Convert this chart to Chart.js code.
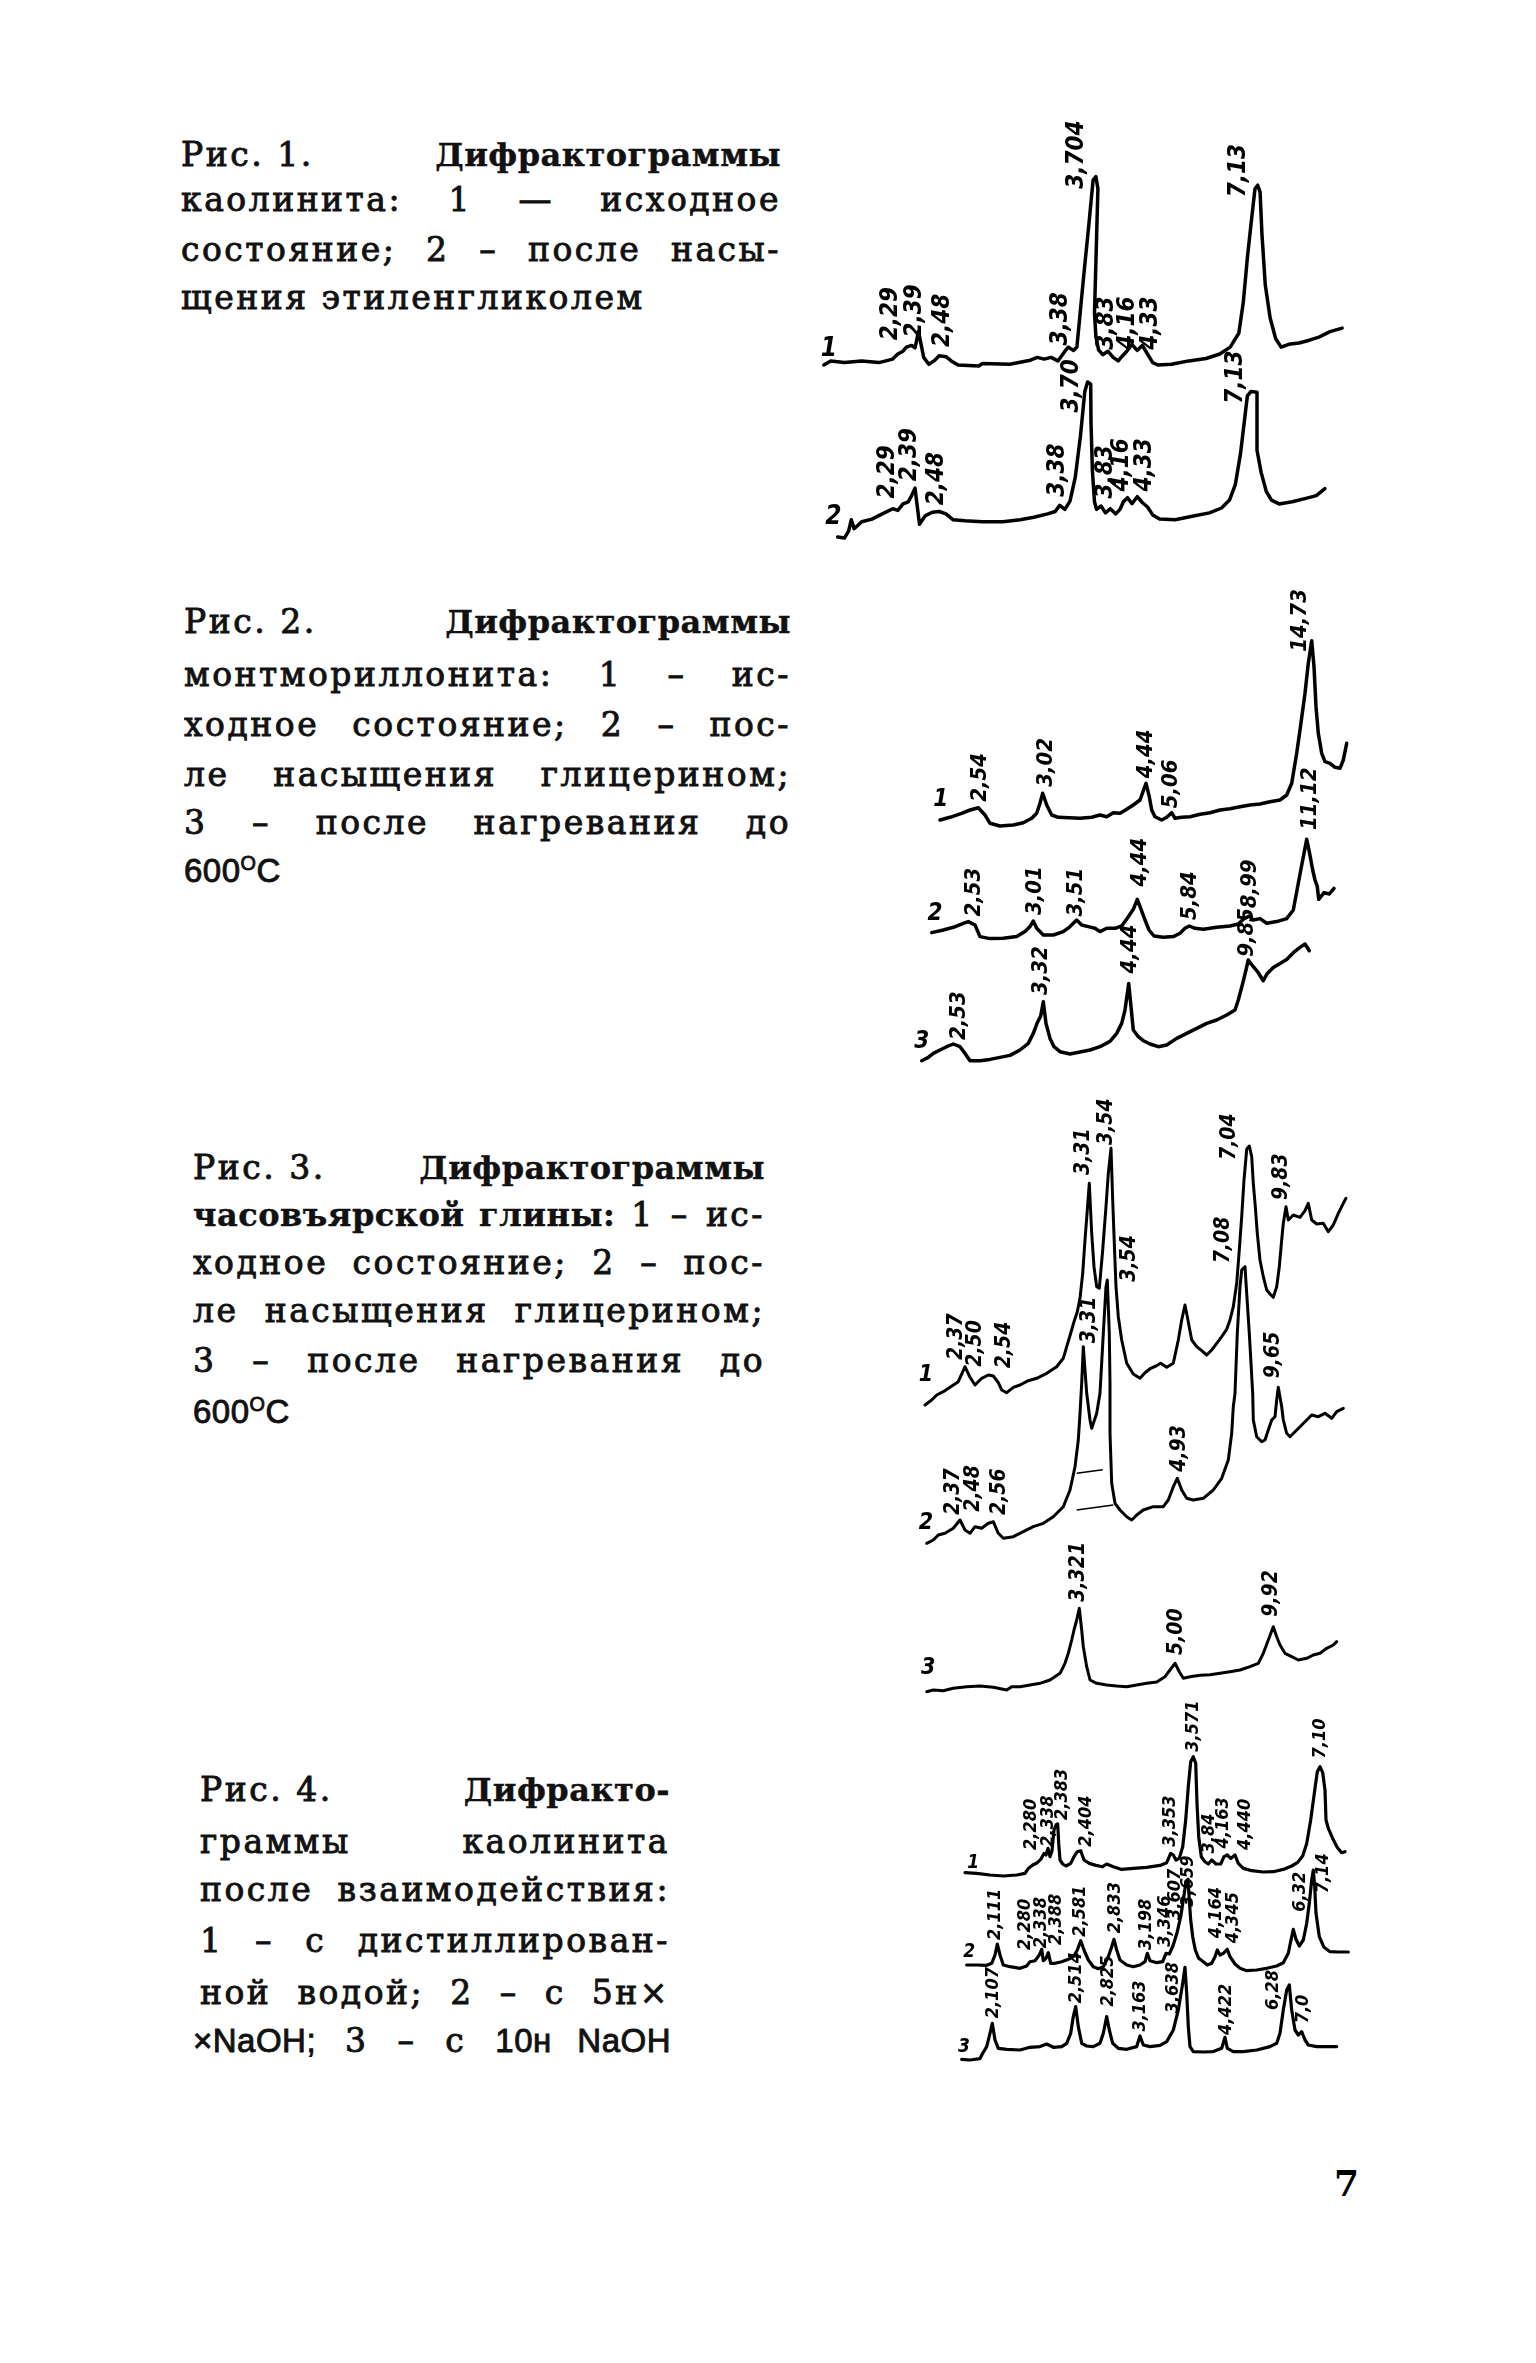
<!DOCTYPE html>
<html>
<head>
<meta charset="utf-8">
<script src="https://cdn.jsdelivr.net/npm/chart.js@4.4.1/dist/chart.umd.min.js"></script>
<style>
  html, body { margin: 0; padding: 0; background: #fff; }
  body { width: 1536px; height: 2363px; position: relative; overflow: hidden; }
  .cap {
    position: absolute; height: 42px; line-height: 42px; overflow: hidden;
    font-family: "DejaVu Serif", serif; font-size: 33px; color: #111;
    letter-spacing: 2.5px; white-space: nowrap; -webkit-text-stroke: 0.9px #111;
  }
  .j { text-align: justify; text-align-last: justify; }
  .cap b { font-weight: bold; font-size: 32px; letter-spacing: 0.5px; -webkit-text-stroke: 0.4px #111; }
  .cap .u { display: inline-block; }
  .cap .s { font-family: "Liberation Sans", Arial, sans-serif; letter-spacing: 0.5px; }
  .cap sup { font-size: 60%; vertical-align: 12px; line-height: 0; }
  .pageno { position: absolute; left: 1334px; top: 2162px; font: bold 36px "DejaVu Serif", serif; }
  canvas { position: absolute; }
</style>
</head>
<body>

<div class="cap j" style="left:181px;top:134px;width:600px"><span class="u">Рис. 1.</span> <b>Дифрактограммы</b></div>
<div class="cap j" style="left:181px;top:179px;width:600px">каолинита: 1 — исходное</div>
<div class="cap j" style="left:181px;top:229px;width:600px">состояние; 2 – после насы-</div>
<div class="cap" style="left:181px;top:277px">щения этиленгликолем</div>

<div class="cap j" style="left:184px;top:601px;width:607px"><span class="u">Рис. 2.</span> <b>Дифрактограммы</b></div>
<div class="cap j" style="left:184px;top:654px;width:607px">монтмориллонита: 1 – ис-</div>
<div class="cap j" style="left:184px;top:704px;width:607px">ходное состояние; 2 – пос-</div>
<div class="cap j" style="left:184px;top:754px;width:607px">ле насыщения глицерином;</div>
<div class="cap j" style="left:184px;top:802px;width:607px">3 – после нагревания до</div>
<div class="cap" style="left:184px;top:850px"><span class="s">600<sup>O</sup>C</span></div>

<div class="cap j" style="left:193px;top:1147px;width:572px"><span class="u">Рис. 3.</span> <b>Дифрактограммы</b></div>
<div class="cap j" style="left:193px;top:1194px;width:572px"><b>часовъярской глины:</b> 1 – ис-</div>
<div class="cap j" style="left:193px;top:1242px;width:572px">ходное состояние; 2 – пос-</div>
<div class="cap j" style="left:193px;top:1290px;width:572px">ле насыщения глицерином;</div>
<div class="cap j" style="left:193px;top:1340px;width:572px">3 – после нагревания до</div>
<div class="cap" style="left:193px;top:1391px"><span class="s">600<sup>O</sup>C</span></div>

<div class="cap j" style="left:200px;top:1769px;width:470px"><span class="u">Рис. 4.</span> <b>Дифракто-</b></div>
<div class="cap j" style="left:200px;top:1821px;width:470px">граммы каолинита</div>
<div class="cap j" style="left:200px;top:1869px;width:470px">после взаимодействия:</div>
<div class="cap j" style="left:200px;top:1920px;width:470px">1 – с дистиллирован-</div>
<div class="cap j" style="left:200px;top:1972px;width:470px">ной водой; 2 – с 5н×</div>
<div class="cap j" style="left:193px;top:2020px;width:478px"><span class="s">×NaOH;</span> 3 – с <span class="s">10н NaOH</span></div>

<div class="pageno">7</div>

<canvas id="fig1" width="560" height="450" style="left:800px;top:110px"></canvas>
<canvas id="fig2" width="470" height="520" style="left:890px;top:570px"></canvas>
<canvas id="fig3" width="470" height="635" style="left:890px;top:1080px"></canvas>
<canvas id="fig4" width="430" height="440" style="left:930px;top:1695px"></canvas>

<script>
// ---- Рис. 1: каолинит ----
const F1T1_X = [23.8,30.7,44.4,61.7,78.9,92.7,97.8,103.0,106.4,111.6,115.0,118.5,123.7,128.8,134.0,139.2,146.0,151.2,158.1,178.8,182.2,209.8,230.4,237.3,244.2,251.1,258.0,264.9,268.3,273.5,276.9,283.8,289.0,293.1,295.9,297.9,296.5,294.5,295.9,298.6,302.7,307.9,313.1,318.2,321.7,326.8,332.0,337.2,342.3,347.5,352.7,357.8,371.6,388.8,406.1,419.8,430.2,438.8,443.3,447.4,451.5,455.0,457.7,460.1,461.9,465.3,470.1,475.6,481.1,488.7,499.0,509.4,519.7,530.0,542.1];
const F1T1_Y = [0,4.1,2.4,4.1,2.4,5.9,11.0,13.8,17.9,19.6,17.2,33.4,7.6,0.7,4.1,9.3,8.3,4.1,0,-1.0,1.4,0.7,4.8,7.6,5.9,7.6,4.1,13.8,17.9,14.5,17.9,90.2,141.9,184.9,188.4,176.3,124.7,52.3,28.2,15.2,10.3,13.8,7.6,4.1,8.3,13.8,20.7,14.5,19.6,11.0,2.4,0,0.7,4.1,6.5,11.0,17.9,31.7,62.7,107.5,145.3,176.3,179.8,172.9,131.6,79.9,47.2,26.5,17.9,20.7,22.0,24.8,28.2,33.4,36.9];
const F1T1_PEAKS = ["2,29","2,39","2,48","3,38","3,704","3,83","4,16","4,33","7,13"];
const F1T1_PX = [90.9,114.4,142.6,260.7,276.9,306.9,327.5,350.3,438.8];
const F1T1_PY = [24.8,27.6,17.9,19.6,176.3,15.2,15.2,15.2,167.7];

const F1T2_X = [37.6,44.4,48.6,51.3,54.1,61.7,72.0,82.3,92.7,97.8,103.0,108.2,111.6,115.0,119.5,125.4,132.3,139.2,146.0,152.9,165.0,182.2,202.9,220.1,233.9,247.6,255.2,259.7,264.9,270.0,275.2,280.4,284.8,287.6,290.7,291.0,292.4,294.5,296.5,301.0,305.5,310.3,315.8,320.0,323.4,327.5,332.0,337.2,342.3,347.5,352.7,359.6,375.1,392.3,409.5,421.5,429.5,435.3,440.5,444.6,447.4,450.8,457.0,457.0,461.2,466.3,471.5,479.1,492.2,505.9,516.3,524.9];
const F1T2_Y = [-14.5,-15.5,-8.6,2.8,-6.2,0.7,3.4,8.6,13.8,12.1,18.6,20.7,26.9,34.4,-1.7,6.9,10.3,11.0,8.6,2.8,1.7,0.7,0.7,2.8,5.2,8.6,11.0,17.2,13.1,21.4,44.8,86.1,130.9,140.5,138.4,99.9,51.7,20.7,13.1,16.5,9.6,13.8,8.6,13.1,20.7,24.8,18.9,25.8,20.0,15.5,7.6,3.4,2.8,6.2,9.6,14.5,22.4,37.9,68.9,103.3,126.7,130.9,130.2,72.3,49.9,31.0,22.4,18.6,20.7,24.1,26.9,33.8];
const F1T2_PEAKS = ["2,29","2,39","2,48","3,38","3,70","3,83","4,16","4,33","7,13"];
const F1T2_PX = [87.5,109.9,136.7,257.3,271.7,305.5,321.7,344.8,435.3];
const F1T2_PY = [24.1,41.3,17.2,25.8,110,24.1,31.0,31.0,118.8];

// ---- Рис. 2: монтмориллонит ----
const F2T1_X = [50.0,60.0,71.7,80.0,88.3,95.0,100.0,110.0,123.3,133.3,141.7,146.7,150.0,152.7,156.7,161.7,168.3,190.0,201.7,210.0,216.7,223.3,230.0,236.7,243.3,250.0,256.0,259.3,261.7,265.0,271.7,276.7,281.7,285.0,291.7,300.0,310.0,320.0,330.0,340.0,350.0,360.0,370.0,380.0,390.0,396.7,401.7,406.7,410.0,415.0,418.3,421.7,424.0,426.0,428.3,431.7,435.0,440.0,445.0,450.0,453.3,456.7];
const F2T1_Y = [0,2.7,6.7,10.0,12.3,5.0,-3.3,-6.0,-5.0,-2.7,1.7,6.7,16.7,26.7,15.0,5.0,2.7,1.7,2.7,5.0,3.3,7.3,6.7,10.7,15.0,20.0,36.7,23.3,10.0,3.3,0,2.7,7.3,1.7,2.7,3.3,5.7,7.3,10.0,11.3,13.3,15.0,16.0,18.3,20.0,25.0,36.7,66.7,90.0,126.7,156.7,179.3,153.3,113.3,86.7,66.7,58.3,56.7,52.7,51.7,60.0,76.7];
const F2T1_PEAKS = ["2,54","3,02","4,44","5,06","14,73"];
const F2T1_PX = [90.0,156.7,256.7,281.7,410.0];
const F2T1_PY = [18.3,33.3,41.7,11.7,168.3];

const F2T2_X = [41.7,53.3,63.3,73.3,78.3,85.0,90.0,100.0,113.3,126.7,135.0,140.0,143.3,146.7,153.3,163.3,173.3,180.0,186.7,191.7,198.3,205.0,210.0,216.7,225.0,231.7,237.3,243.3,247.3,250.7,255.0,259.0,264.0,273.3,283.3,290.0,295.0,299.3,305.0,313.3,326.7,340.0,348.3,353.3,359.3,363.3,370.0,376.7,386.7,396.7,403.3,408.3,412.7,416.7,419.3,422.7,425.0,427.3,428.7,434.0,439.3,444.0];
const F2T2_Y = [0.7,3.3,6.0,10.0,11.7,8.3,-3.3,-5.3,-5.0,-3.3,1.7,6.7,12.3,5.0,-1.7,-1.7,1.7,6.7,13.3,8.3,6.7,5.0,1.7,5.0,5.0,7.3,15.0,24.0,34.0,25.0,13.3,3.3,-2.7,-4.0,-3.3,0,5.0,7.3,5.0,4.0,6.0,7.3,9.3,14.0,17.3,13.3,14.7,10.0,11.7,14.7,23.3,50.0,73.3,94.0,81.7,63.3,53.3,46.7,34.0,40.7,39.3,45.0];
const F2T2_PEAKS = ["2,53","3,01","3,51","4,44","5,84","8,99","11,12"];
const F2T2_PX = [84.0,145.0,186.7,250.0,300.0,360.0,420.0];
const F2T2_PY = [16.7,18.3,16.7,46.7,13.3,25.0,103.3];

const F2T3_X = [31.7,38.3,43.3,50.0,56.7,63.3,70.0,75.0,80.0,90.0,100.0,110.0,120.0,130.0,138.3,143.3,147.3,150.7,153.3,156.0,160.0,164.0,170.0,180.0,190.0,200.0,210.0,220.0,226.7,231.7,235.0,238.7,241.0,243.3,248.3,253.3,260.0,268.3,276.7,286.7,296.7,306.7,316.7,326.7,336.7,345.0,348.3,352.3,356.0,358.3,363.3,368.3,373.3,377.3,383.3,390.0,396.7,403.3,410.0,415.0,419.3];
const F2T3_Y = [1.0,4.3,8.3,11.7,15.0,17.7,15.0,8.3,1.0,1.0,2.3,4.3,6.3,11.7,18.3,28.3,39.0,45.7,60.0,38.3,23.3,15.0,10.0,7.7,9.7,11.7,15.0,20.3,28.3,38.3,51.7,78.3,55.0,31.7,25.0,21.0,17.7,15.0,16.7,23.3,28.3,33.3,38.3,41.7,46.7,51.7,61.7,76.7,91.7,101.7,95.0,89.0,81.0,88.3,94.3,98.3,102.3,109.0,114.3,117.7,111.0];
const F2T3_PEAKS = ["2,53","3,32","4,44","9,85"];
const F2T3_PX = [69.3,151.7,240.0,357.0];
const F2T3_PY = [21.7,66.7,88.3,105];

// ---- Рис. 3: часовъярская глина ----
const F3T1_X = [35.0,41.7,46.7,53.3,60.0,68.3,75.0,80.0,85.0,91.7,98.3,103.3,108.3,111.7,116.7,123.3,130.0,138.3,146.7,156.7,166.7,173.3,176.7,180.7,184.0,187.3,190.0,192.7,195.0,197.3,199.3,201.7,204.0,206.7,209.3,212.7,216.0,218.3,221.0,222.7,224.3,226.0,228.3,231.7,236.7,243.3,250.0,255.0,260.7,266.0,270.7,276.7,283.3,288.3,291.7,295.0,297.3,301.7,306.7,311.7,316.7,321.7,326.7,331.7,336.7,340.0,343.3,346.7,349.3,351.7,354.0,356.7,359.3,361.7,363.3,365.3,367.3,370.0,373.3,376.7,380.0,383.3,386.7,389.3,391.7,393.3,396.0,398.3,403.3,410.0,415.0,418.3,421.7,426.7,433.3,438.3,443.3,448.3,453.3,456.0];
const F3T1_Y = [-5.0,0,5.0,8.3,12.7,18.3,33.3,22.7,15.0,21.7,25.0,24.0,17.3,10.0,7.3,12.7,15.0,19.3,21.7,26.7,33.3,41.7,53.3,66.7,78.3,88.3,101.7,126.7,160.0,190.0,216.7,166.7,133.3,113.3,111.7,150.0,193.3,226.7,251.7,200.0,156.7,113.3,83.3,60.0,36.7,26.0,21.7,27.3,31.7,34.0,36.7,32.7,36.7,60.0,80.0,95.0,83.3,60.0,53.3,49.3,45.0,50.0,56.7,63.3,70.7,80.0,93.3,116.7,150.0,183.3,220.0,250.7,254.0,243.3,216.7,193.3,166.7,140.0,123.3,110.0,106.0,102.7,113.3,133.3,160.0,176.7,193.3,180.0,185.0,182.7,189.3,196.7,180.0,176.0,176.7,168.3,175.0,186.7,196.7,201.7];
const F3T1_PEAKS = ["2,37","2,50","2,54","3,31","3,54","7,04","9,83"];
const F3T1_PX = [66.7,86.0,115.0,193.3,217.0,340.0,391.7];
const F3T1_PY = [40,33.3,31.7,225,255,240,200];

const F3T2_X = [36.7,43.3,48.3,55.0,63.3,70.0,75.0,80.0,85.0,91.7,98.3,103.3,108.3,113.3,123.3,133.3,143.3,153.3,163.3,173.3,180.0,185.0,188.3,190.0,191.7,193.3,196.7,200.0,201.7,206.7,210.0,213.3,216.0,217.3,219.3,220.0,220.0,221.7,225.0,230.0,236.7,241.7,246.7,253.3,263.3,273.3,278.3,283.3,287.3,291.7,296.7,303.3,313.3,323.3,331.7,338.3,341.7,343.3,345.0,347.3,350.0,351.7,355.0,356.7,359.3,362.7,363.3,366.7,371.7,375.0,378.3,381.7,385.0,386.7,388.3,391.7,393.3,396.7,400.0,405.0,410.0,415.0,421.7,428.3,435.0,441.7,446.7,453.3];
const F3T2_Y = [0,3.3,8.3,10.0,15.0,23.3,13.3,10.0,16.6,15.0,20.0,21.6,10.0,5.0,6.6,11.6,16.6,20.0,26.6,36.6,53.3,76.6,103.3,130.0,160.0,196.6,150.0,123.3,115.0,130.0,150.0,210.0,256.6,263.3,210.0,160.0,110.0,60.0,40.0,33.3,26.6,23.3,28.3,33.3,36.6,36.6,43.3,56.6,65.0,53.3,45.0,43.3,45.0,53.3,65.0,83.3,110.0,136.6,150.0,210.0,256.6,273.3,276.6,250.0,210.0,150.0,123.3,106.6,101.6,103.3,113.3,123.3,126.6,143.3,156.0,136.6,123.3,110.0,106.6,111.6,116.6,121.6,128.3,126.6,130.0,125.0,131.6,135.0];
const F3T2_PEAKS = ["2,37","2,48","2,56","3,31","3,54","4,93","7,08","9,65"];
const F3T2_PX = [63.3,84.0,109.3,200.0,240.0,290.0,333.3,383.3];
const F3T2_PY = [28.3,31.6,28.3,200,261.6,71.6,280,165];
// касательные у пика 3,31 кривой 2
const F3T2_TAN1_X = [186.7,212.7];
const F3T2_TAN1_Y = [70.0,73.6];
const F3T2_TAN2_X = [186.7,223.3];
const F3T2_TAN2_Y = [33.3,38.3];

const F3T3_X = [36.7,43.3,53.3,63.3,76.7,90.0,103.3,116.7,121.7,130.0,140.0,150.0,160.0,170.0,175.0,178.3,181.7,184.0,186.7,189.3,191.7,193.3,196.7,200.0,206.7,216.7,226.7,236.7,246.7,256.7,266.7,275.0,280.0,285.0,289.3,293.3,300.0,310.0,320.0,330.0,340.0,350.0,360.0,368.3,373.3,378.3,383.3,386.7,390.0,395.0,401.7,408.3,416.7,423.3,430.0,436.7,443.3,446.7];
const F3T3_Y = [-1.7,0,-0.7,1.7,3.3,4.0,2.7,0,3.3,3.3,5.0,6.7,10.0,16.7,26.7,36.7,50.0,60.0,70.0,81.7,60.0,43.3,23.3,10.0,6.7,5.0,4.0,3.3,5.0,6.7,8.0,13.3,20.0,26.7,18.3,11.7,13.3,14.7,15.3,16.7,18.3,20.0,23.3,26.7,36.7,50.0,63.3,53.3,45.0,36.7,33.3,30.0,31.7,35.0,36.7,41.7,45.0,48.3];
const F3T3_PEAKS = ["3,321","5,00","9,92"];
const F3T3_PX = [188.3,286.7,381.7];
const F3T3_PY = [88.3,35,73.3];

// ---- Рис. 4: каолинит после NaOH ----
const F4T1_X = [35.0,46.7,60.0,73.3,86.7,95.0,98.3,102.7,107.3,110.7,114.0,116.0,118.0,120.0,122.0,124.0,126.0,127.7,128.7,130.0,132.7,136.0,140.7,144.0,147.3,150.7,154.0,159.3,166.0,172.7,176.7,183.3,191.7,203.3,216.7,230.0,236.7,240.7,243.3,246.0,249.3,252.7,255.7,258.3,260.7,263.3,265.7,267.0,268.7,271.3,275.0,278.3,281.7,286.0,290.7,294.0,297.3,300.7,305.0,308.3,313.3,321.7,333.3,343.3,353.3,361.7,367.3,372.7,376.7,380.7,384.3,387.3,390.0,392.7,395.0,396.0,398.3,402.7,407.3,411.7,415.0];
const F4T1_Y = [-1.0,-1.7,-3.3,-4.3,-3.3,-1.7,3.3,6.7,9.0,12.3,18.3,16.7,23.3,15.0,21.0,41.7,46.7,47.7,28.3,11.7,7.7,5.7,8.3,15.0,20.0,21.0,11.7,8.3,6.3,5.0,7.7,5.0,2.3,3.3,4.3,6.3,9.0,18.3,16.7,11.7,13.3,25.0,51.7,85.0,110.0,115.0,108.3,68.3,35.0,15.0,10.0,7.7,11.7,7.7,7.7,15.0,16.7,13.3,16.7,8.3,3.3,1.0,-0.3,0,2.3,5.7,9.0,15.7,28.3,51.7,78.3,100.0,105.0,99.0,81.7,51.7,43.3,33.3,24.3,19.0,20.0];
const F4T1_PEAKS = ["2,280","2,338","2,383","2,404","3,353","3,571","3,84","4,163","4,440","7,10"];
const F4T1_PX = [101.7,118.3,132.7,156.7,240.0,263.3,279.3,293.3,315.0,390.0];
const F4T1_PY = [21.7,25,51.7,25,25,120,18.3,23.3,21.7,113.3];

const F4T2_X = [36.7,46.7,56.7,61.7,65.0,67.3,70.0,73.3,80.0,90.0,96.7,100.0,105.0,109.3,111.7,113.3,116.0,118.3,120.7,125.0,131.7,138.3,143.3,147.3,150.7,154.0,158.3,163.3,168.3,173.3,178.3,181.7,184.0,186.7,190.0,196.7,203.3,210.0,215.0,217.3,220.0,226.7,232.7,236.0,239.3,243.3,247.3,250.7,253.3,256.0,258.0,259.3,260.7,262.7,265.3,268.7,273.3,277.3,281.7,285.0,287.3,290.0,293.3,297.3,300.0,305.0,310.0,316.7,326.7,336.7,346.7,353.3,358.3,361.0,363.3,366.0,369.3,373.3,376.7,379.3,381.7,383.3,384.7,386.0,389.3,394.0,400.0,408.3,418.3];
const F4T2_Y = [0,0,-0.3,1.7,10.0,21.0,10.0,0,-1.7,-3.3,-1.0,3.3,4.3,10.0,15.7,4.3,6.7,12.3,1.7,1.7,3.3,5.7,8.3,15.0,24.3,15.0,5.0,-1.7,-3.7,-1.7,8.3,18.3,25.7,15.0,5.0,0,-1.7,0,3.3,11.7,4.3,2.3,3.3,11.7,11.0,20.0,33.3,48.3,65.0,83.3,85.7,65.0,45.0,28.3,15.0,6.7,3.3,0,1.7,8.3,15.0,10.0,11.7,15.7,8.3,1.0,-3.3,-5.7,-5.0,-3.3,-1.0,2.3,11.7,25.0,35.7,25.7,19.0,25.0,41.7,61.7,85.0,95.0,78.3,51.7,28.3,17.7,13.3,13.0,13.0];
const F4T2_PEAKS = ["2,111","2,280","2,338","2,388","2,581","2,833","3,198","3,346","3,607","3,659","4,164","4,345","6,32","7,14"];
const F4T2_PX = [65.0,95.0,111.7,126.7,150.0,185.0,216.7,235.0,245.0,258.3,286.7,303.3,370.0,393.3];
const F4T2_PY = [25,15,16.7,20,28.3,31.7,15,18.3,45,58.3,26.7,21.7,53.3,71.7];

const F4T3_X = [31.7,40.0,50.0,52.7,56.7,60.0,62.3,65.0,68.3,76.7,90.0,100.0,110.0,116.7,123.3,131.7,136.7,140.7,143.3,145.7,148.3,151.7,156.7,163.3,170.0,173.3,176.7,179.3,182.7,188.3,196.7,206.7,210.0,213.3,220.0,230.0,236.7,243.3,248.3,252.7,255.0,256.7,258.3,260.0,263.3,273.3,283.3,291.7,295.0,297.3,303.3,313.3,326.7,340.0,346.7,350.0,353.3,356.7,359.3,361.7,365.0,368.3,371.7,375.0,378.3,386.7,396.7,406.7];
const F4T3_Y = [-11.0,-11.7,-10.3,-5.0,1.7,15.0,25.0,8.3,0,-1.0,-1.7,1.0,1.7,4.3,1.0,1.7,5.0,15.0,31.7,41.7,21.7,5.0,2.3,1.7,5.0,15.0,31.7,18.3,5.0,0,-1.0,1.7,12.3,3.3,1.7,3.0,6.7,18.3,38.3,65.0,81.0,55.0,21.7,1.7,-3.3,-3.7,-3.3,0,11.0,0,-3.3,-3.3,-1.7,1.7,5.0,15.0,38.3,58.3,63.3,38.3,18.3,13.3,16.7,8.3,3.3,1.7,1.7,1.7];
const F4T3_PEAKS = ["2,107","2,514","2,825","3,163","3,638","4,422","6,28","7,0"];
const F4T3_PX = [63.3,146.0,178.3,210.0,243.3,296.0,343.3,373.3];
const F4T3_PY = [30,45,41.7,16.7,35,13.3,38.3,25];

function toPoints(xs, ys, off) {
  const n = Math.min(xs.length, ys.length);
  const pts = [];
  for (let i = 0; i < n; i++) pts.push({ x: xs[i], y: ys[i] + off });
  return pts;
}

function makeFigure(id, traces, style, extras) {
  const canvas = document.getElementById(id);
  const w = canvas.width, h = canvas.height;

  const datasets = traces.map(t => ({
    data: toPoints(t.x, t.y, t.off),
    borderColor: "#000",
    borderWidth: style.lw,
    pointRadius: 0,
    tension: 0,
    fill: false,
    clip: false,
    borderJoinStyle: "round",
    borderCapStyle: "round",
  }));
  (extras || []).forEach(e => {
    datasets.push({
      data: toPoints(e.x, e.y, e.off),
      borderColor: "#000",
      borderWidth: 1.5,
      pointRadius: 0,
      tension: 0,
      fill: false,
      clip: false,
    });
  });

  const peakLabels = {
    id: "peakLabels_" + id,
    afterDatasetsDraw(chart) {
      const { ctx, scales } = chart;
      ctx.save();
      ctx.fillStyle = "#000";
      traces.forEach(t => {
        ctx.font = style.font;
        ctx.textAlign = "left";
        ctx.textBaseline = "middle";
        t.peaks.forEach((txt, i) => {
          const px = scales.x.getPixelForValue(t.px[i]);
          const py = scales.y.getPixelForValue(t.off + t.py[i]);
          ctx.save();
          ctx.translate(px, py);
          ctx.rotate(-Math.PI / 2);
          ctx.fillText(txt, 0, 0);
          ctx.restore();
        });
        ctx.font = style.numFont;
        ctx.textAlign = "center";
        ctx.fillText(t.num, scales.x.getPixelForValue(t.nx), scales.y.getPixelForValue(t.off + t.ny));
      });
      ctx.restore();
    }
  };

  return new Chart(canvas.getContext("2d"), {
    type: "line",
    data: { datasets },
    options: {
      responsive: false,
      devicePixelRatio: 1,
      animation: false,
      layout: { padding: 0 },
      plugins: { legend: { display: false }, tooltip: { enabled: false } },
      scales: {
        x: { type: "linear", min: 0, max: w, display: false },
        y: { type: "linear", min: 0, max: h, display: false }
      }
    },
    plugins: [peakLabels]
  });
}

const narrow = "'Liberation Sans Narrow', 'DejaVu Sans Condensed', 'Roboto Condensed', sans-serif";

makeFigure("fig1", [
  { x: F1T1_X, y: F1T1_Y, off: 195, peaks: F1T1_PEAKS, px: F1T1_PX, py: F1T1_PY, num: "1", nx: 28.9, ny: 16 },
  { x: F1T2_X, y: F1T2_Y, off: 37.5, peaks: F1T2_PEAKS, px: F1T2_PX, py: F1T2_PY, num: "2", nx: 33.4, ny: 5 }
], { lw: 3.5, font: "italic bold 24px " + narrow, numFont: "italic bold 26px " + narrow });

makeFigure("fig2", [
  { x: F2T1_X, y: F2T1_Y, off: 270, peaks: F2T1_PEAKS, px: F2T1_PX, py: F2T1_PY, num: "1", nx: 50.7, ny: 20 },
  { x: F2T2_X, y: F2T2_Y, off: 156.7, peaks: F2T2_PEAKS, px: F2T2_PX, py: F2T2_PY, num: "2", nx: 45, ny: 20 },
  { x: F2T3_X, y: F2T3_Y, off: 28.3, peaks: F2T3_PEAKS, px: F2T3_PX, py: F2T3_PY, num: "3", nx: 31.7, ny: 20 }
], { lw: 3.5, font: "italic bold 22px " + narrow, numFont: "italic bold 24px " + narrow });

makeFigure("fig3", [
  { x: F3T1_X, y: F3T1_Y, off: 315, peaks: F3T1_PEAKS, px: F3T1_PX, py: F3T1_PY, num: "1", nx: 36, ny: 25 },
  { x: F3T2_X, y: F3T2_Y, off: 171.7, peaks: F3T2_PEAKS, px: F3T2_PX, py: F3T2_PY, num: "2", nx: 36, ny: 20 },
  { x: F3T3_X, y: F3T3_Y, off: 25, peaks: F3T3_PEAKS, px: F3T3_PX, py: F3T3_PY, num: "3", nx: 38.3, ny: 21.7 }
], { lw: 3, font: "italic bold 21px " + narrow, numFont: "italic bold 23px " + narrow }, [
  { x: F3T2_TAN1_X, y: F3T2_TAN1_Y, off: 171.7 },
  { x: F3T2_TAN2_X, y: F3T2_TAN2_Y, off: 171.7 }
]);

makeFigure("fig4", [
  { x: F4T1_X, y: F4T1_Y, off: 263.3, peaks: F4T1_PEAKS, px: F4T1_PX, py: F4T1_PY, num: "1", nx: 43.3, ny: 8.3 },
  { x: F4T2_X, y: F4T2_Y, off: 170, peaks: F4T2_PEAKS, px: F4T2_PX, py: F4T2_PY, num: "2", nx: 39.3, ny: 13.3 },
  { x: F4T3_X, y: F4T3_Y, off: 86.7, peaks: F4T3_PEAKS, px: F4T3_PX, py: F4T3_PY, num: "3", nx: 34, ny: 1.7 }
], { lw: 3.2, font: "italic bold 18px " + narrow, numFont: "italic bold 19px " + narrow });
</script>
</body>
</html>
